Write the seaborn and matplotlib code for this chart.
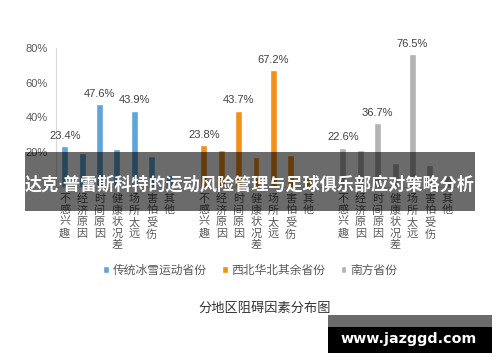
import numpy as np
import pandas as pd
import matplotlib
matplotlib.use('Agg')
import matplotlib.pyplot as plt
from matplotlib.patches import Rectangle
from matplotlib.ticker import FuncFormatter
import seaborn as sns

# data
regions = ['传统冰雪运动省份', '西北华北其余省份', '南方省份']
factors = ['不感兴趣', '经济原因', '时间原因', '健康状况差', '场所太远', '害怕受伤', '其他']
cold = [23.4, 19.5, 47.6, 22.0, 43.9, 17.5, 7.0]
north = [23.8, 21.0, 43.7, 17.0, 67.2, 18.0, 5.0]
south = [22.6, 21.0, 36.7, 13.5, 76.5, 12.5, 6.0]
# which bars carry a value label
labelled = [0, 2, 4]
chart_title = '分地区阻碍因素分布图'
banner = '达克·普雷斯科特的运动风险管理与足球俱乐部应对策略分析'
watermark = 'www.jazggd.com'

colors = ['#5DA5DA', '#F39019', '#B3B3B3']

sns.set_style('white')
plt.rcParams['font.family'] = ['Liberation Sans', 'Noto Sans CJK SC', 'DejaVu Sans']

rows = []
for g, (reg, vals) in enumerate(zip(regions, [cold, north, south])):
    for i, (f, v) in enumerate(zip(factors, vals)):
        rows.append({'region': reg, 'factor': f, 'value': v, 'slot': g * 8 + i})
df = pd.DataFrame(rows)

fig = plt.figure(figsize=(5, 3.62), dpi=100)
ax = fig.add_axes([0.112, 0.4843, 0.80, 0.383])

sns.barplot(data=df, x='slot', y='value', hue='region', hue_order=regions,
            palette=colors, native_scale=True, dodge=False, width=0.4,
            saturation=1, ax=ax)

for k, cont in enumerate(ax.containers):
    vals = [cold, north, south][k]
    lbls = [f'{v:.1f}%' if i in labelled else '' for i, v in enumerate(vals)]
    ax.bar_label(cont, labels=lbls, padding=4, fontsize=8, color='#404040')

ax.set_ylim(0, 80)
# the 0% label sits under the banner in the reference
ax.set_yticks([20, 40, 60, 80])
ax.yaxis.set_major_formatter(FuncFormatter(lambda v, p: f'{v:.0f}%'))
ax.set_xlim(-0.5, 22.5)
ax.set_xticks(df['slot'])
ax.set_xticklabels(['\n'.join(f) for f in df['factor']], linespacing=1.18,
                   fontsize=8, color='#595959', family=['Noto Sans CJK SC'])
ax.tick_params(axis='x', length=0, pad=5)
ax.tick_params(axis='y', length=0, labelsize=8, labelcolor='#595959', pad=6)
ax.set_xlabel('')
ax.set_ylabel('')
for s in ['top', 'right']:
    ax.spines[s].set_visible(False)
ax.spines['left'].set_color('#d9d9d9')
ax.spines['bottom'].set_color('#d9d9d9')

handles, labels = ax.get_legend_handles_labels()
ax.legend_.remove()
fig.legend(handles, labels, loc='center', bbox_to_anchor=(0.5, 1 - 270 / 362),
           ncol=3, frameon=False, handlelength=0.5, handleheight=0.5,
           handletextpad=0.3, columnspacing=1.3, labelcolor='#595959',
           prop={'family': ['Noto Sans CJK SC'], 'size': 8.5})

fig.text(0.53, 1 - 308 / 362, chart_title, ha='center', va='center',
         fontsize=9.5, color='#333333', family=['Noto Sans CJK SC'])

# overlay banner
fig.add_artist(Rectangle((0.05, 1 - 211 / 362), 0.9, 59 / 362, transform=fig.transFigure,
                         facecolor='black', alpha=0.58, edgecolor='none', zorder=5))
fig.text(0.5, 1 - 185 / 362, banner, ha='center', va='center', fontsize=12.3,
         fontweight='bold', color='white', family=['Noto Sans', 'Noto Sans CJK SC'], zorder=6)

# watermark
fig.add_artist(Rectangle((0.656, 1 - 327 / 362), 0.328, 12 / 362, transform=fig.transFigure,
                         facecolor='#6b6b6b', edgecolor='none', zorder=5))
fig.add_artist(Rectangle((0.656, 1 - 353 / 362), 0.328, 26 / 362, transform=fig.transFigure,
                         facecolor='black', edgecolor='none', zorder=5))
fig.text(0.818, 1 - 339 / 362, watermark, ha='center', va='center', fontsize=10.3,
         fontweight='bold', color='white', family=['DejaVu Sans'], zorder=6)

fig.savefig('out.png', dpi=100)
